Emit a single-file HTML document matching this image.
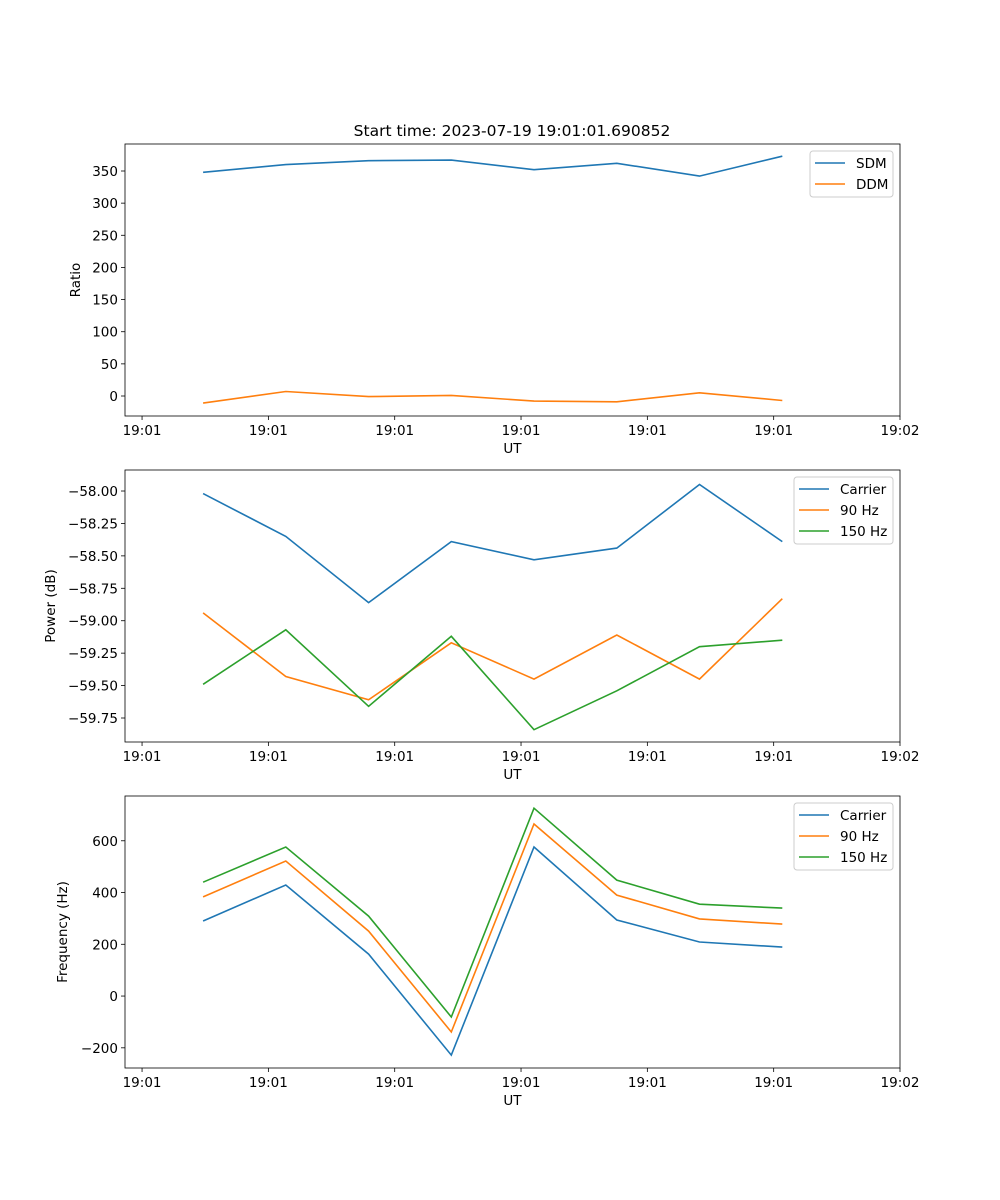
<!DOCTYPE html>
<html><head><meta charset="utf-8"><style>
body{margin:0;background:#fff}
svg{display:block;font-family:"DejaVu Sans","Liberation Sans",sans-serif}
</style></head><body>
<svg id="fig" width="1000" height="1200" viewBox="0 0 1000 1200" xmlns="http://www.w3.org/2000/svg">
<text x="512" y="136" text-anchor="middle" font-size="15.5">Start time: 2023-07-19 19:01:01.690852</text>
</svg>
<script>
// x positions in seconds after 19:01:00
const times = [4.83, 11.38, 17.93, 24.48, 31.03, 37.58, 44.13, 50.68];
const xTickVals = [0, 10, 20, 30, 40, 50, 60];
const xTickLabels = ["19:01","19:01","19:01","19:01","19:01","19:01","19:02"];

const sdm = [348, 360, 366, 367, 352, 362, 342, 373];
const ddm = [-11, 7, -1, 1, -8, -9, 5, -7];
const ratioTicks = [0, 50, 100, 150, 200, 250, 300, 350];

const powCarrier = [-58.02, -58.35, -58.86, -58.39, -58.53, -58.44, -57.95, -58.39];
const pow90 = [-58.94, -59.43, -59.61, -59.17, -59.45, -59.11, -59.45, -58.83];
const pow150 = [-59.49, -59.07, -59.66, -59.12, -59.84, -59.54, -59.20, -59.15];
const powTicks = [-58.00, -58.25, -58.50, -58.75, -59.00, -59.25, -59.50, -59.75];

const freqCarrier = [290, 429, 162, -228, 576, 294, 209, 189];
const freq90 = [383, 522, 251, -139, 665, 390, 298, 278];
const freq150 = [440, 576, 309, -81, 726, 448, 355, 340];
const freqTicks = [-200, 0, 200, 400, 600];

const NS = "http://www.w3.org/2000/svg";
const svg = document.getElementById("fig");
const C = {blue:"#1f77b4", orange:"#ff7f0e", green:"#2ca02c"};
function mk(tag, attrs, parent){
  const e = document.createElementNS(NS, tag);
  for (const k in attrs) e.setAttribute(k, attrs[k]);
  (parent||svg).appendChild(e);
  return e;
}
const L = 125, R = 900, xMin = -1.35, xMax = 60;
const xs = v => L + (v - xMin) / (xMax - xMin) * (R - L);

function panel(id, top, bottom, yMin, yMax, ticks, fmt, ylabel, ylabelX, series, legend){
  const g = mk("g", {});
  
  
  const ys = v => bottom - (v - yMin) / (yMax - yMin) * (bottom - top);
  // ticks
  xTickVals.forEach((v, i) => {
    const x = xs(v);
    mk("line", {x1:x, x2:x, y1:bottom, y2:bottom+4, stroke:"#000", "stroke-width":0.8}, g);
    const t = mk("text", {x:x, y:bottom+19, "text-anchor":"middle", "font-size":13.5}, g);
    t.textContent = xTickLabels[i];
    
    
  });
  ticks.forEach(v => {
    const y = ys(v);
    mk("line", {x1:L-4, x2:L, y1:y, y2:y, stroke:"#000", "stroke-width":0.8}, g);
    const t = mk("text", {x:L-7, y:y+5, "text-anchor":"end", "font-size":13.5}, g);
    t.textContent = fmt(v);
    
    
  });
  const xl = mk("text", {x:(L+R)/2, y:bottom+37, "text-anchor":"middle", "font-size":13.5}, g);
  xl.textContent = "UT";
  
  
  const cy = (top+bottom)/2;
  const yl = mk("text", {x:ylabelX, y:cy, "text-anchor":"middle", "font-size":13.5, transform:`rotate(-90 ${ylabelX} ${cy})`}, g);
  yl.textContent = ylabel;
  
  
  series.forEach(s => {
    const p = mk("polyline", {points: s.vals.map((v,i)=>xs(times[i]).toFixed(1)+","+ys(v).toFixed(1)).join(" "), fill:"none", stroke:s.color, "stroke-width":1.6}, g);
    
    
  });
  mk("rect", {x:L, y:top, width:R-L, height:bottom-top, fill:"none", stroke:"#000", "stroke-width":0.8}, g);
  // legend
  const lg = mk("g", {}, g);
  
  
  mk("rect", {x:legend.x, y:top+7, width:legend.w, height:series.length*21+4, rx:3, fill:"#fff", "fill-opacity":0.8, stroke:"#ccc"}, lg);
  series.forEach((s, i) => {
    const y = top + 19 + i*21;
    mk("line", {x1:legend.x+5, x2:legend.x+35, y1:y, y2:y, stroke:s.color, "stroke-width":1.6}, lg);
    const t = mk("text", {x:legend.x+46, y:y+5, "font-size":13.5}, lg);
    t.textContent = s.label;
    
    
  });
}

panel("ratio", 144, 416, -31.1, 392, ratioTicks, v=>String(v), "Ratio", 80,
  [{vals:sdm, color:C.blue, label:"SDM", name:"line-sdm"},
   {vals:ddm, color:C.orange, label:"DDM", name:"line-ddm"}], {x:810, w:83});
panel("power", 470, 742, -59.935, -57.838, powTicks, v=>"\u2212"+Math.abs(v).toFixed(2), "Power (dB)", 55,
  [{vals:powCarrier, color:C.blue, label:"Carrier", name:"line-power-carrier"},
   {vals:pow90, color:C.orange, label:"90 Hz", name:"line-power-90hz"},
   {vals:pow150, color:C.green, label:"150 Hz", name:"line-power-150hz"}], {x:794, w:99});
panel("frequency", 796, 1068, -278, 773, freqTicks, v=>(v<0?"\u2212":"")+Math.abs(v), "Frequency (Hz)", 67,
  [{vals:freqCarrier, color:C.blue, label:"Carrier", name:"line-freq-carrier"},
   {vals:freq90, color:C.orange, label:"90 Hz", name:"line-freq-90hz"},
   {vals:freq150, color:C.green, label:"150 Hz", name:"line-freq-150hz"}], {x:794, w:99});
</script>
</body></html>
